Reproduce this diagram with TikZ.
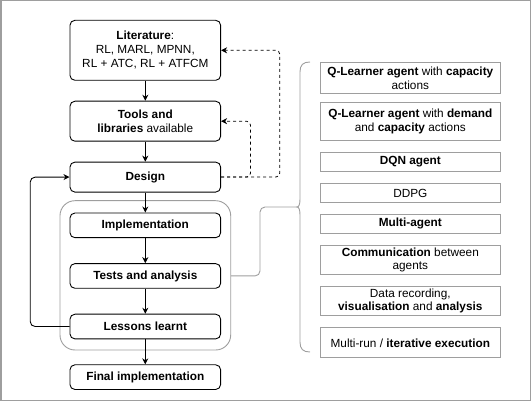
\documentclass[tikz,border=0pt]{standalone}
\usepackage{fontspec}
\setmainfont{Liberation Sans}
\usetikzlibrary{arrows.meta,positioning,fit}
\definecolor{linegray}{HTML}{9E9E9E}

\begin{document}
\begin{tikzpicture}[->,>={Stealth[length=6pt,width=6pt]},x=1pt,y=-1pt,line width=0.9pt,
                    every text node part/.style={align=center},font=\fontsize{11.8}{14}\selectfont]
  \tikzstyle{phase}=[draw=black,rounded corners=5pt,minimum width=150.7pt,inner sep=0pt]
  \tikzstyle{task}=[draw=linegray,minimum width=180.7pt,inner sep=0pt,font=\fontsize{11.8}{13.5}\selectfont]
  \tikzstyle{group}=[draw=linegray,rounded corners=15pt,inner sep=0pt]

  \useasboundingbox (0,0) rectangle (531,401);
  \draw[-,linegray,line width=1.5pt] (0.75,0.75) rectangle (530.25,400.25);

  % main work flow
  \node[phase,minimum height=60pt] (lit) at (145.3,50.3) {\textbf{Literature}:\\RL, MARL, MPNN,\\RL + ATC, RL + ATFCM};
  \node[phase,minimum height=40pt] (tools) [below=20pt of lit] {\textbf{Tools and}\\\textbf{libraries} available};
  \node[phase,minimum height=30pt] (design) [below=20pt of tools] {\textbf{Design}};
  \node[phase,minimum height=24.7pt] (impl) [below=20pt of design] {\textbf{Implementation}};
  \node[phase,minimum height=24.7pt] (tests) [below=25pt of impl] {\textbf{Tests and analysis}};
  \node[phase,minimum height=24.7pt] (lessons) [below=25pt of tests] {\textbf{Lessons learnt}};
  \node[phase,minimum height=24.7pt] (final) [below=25pt of lessons] {\textbf{Final implementation}};

  \coordinate (g1) at (60,200.7);
  \coordinate (g2) at (230.7,350);
  \node[group,fit=(g1)(g2)] (iter) {};

  % developed items
  \node[task,minimum height=31.3pt] (qcap) at (410.3,78.3) {\textbf{Q-Learner agent} with \textbf{capacity}\\actions};
  \node[task,minimum height=38.3pt] (qdem) [below=7.7pt of qcap] {\textbf{Q-Learner agent} with \textbf{demand}\\and \textbf{capacity} actions};
  \node[task,minimum height=19.3pt] (dqn) [below=10.7pt of qdem] {\textbf{DQN agent}};
  \node[task,minimum height=19.3pt] (ddpg) [below=10.7pt of dqn] {DDPG};
  \node[task,minimum height=19.3pt] (multi) [below=10.7pt of ddpg] {\textbf{Multi-agent}};
  \node[task,minimum height=29.3pt] (comm) [below=10.7pt of multi] {\textbf{Communication} between\\agents};
  \node[task,minimum height=29.3pt] (data) [below=10.7pt of comm] {Data recording,\\\textbf{visualisation} and \textbf{analysis}};
  \node[task,minimum height=30pt] (runs) [below=11.7pt of data] {Multi-run / \textbf{iterative execution}};

  \path (lit) edge (tools)
        (tools) edge (design)
        (design) edge (impl)
        (impl) edge (tests)
        (tests) edge (lessons)
        (lessons) edge (final);

  \draw[rounded corners=5pt] (lessons.west) -- ++(-39.3,0) |- (design.west);
  \draw[dash pattern=on 3pt off 3pt,line width=0.8pt,rounded corners=4pt] (design.east) -- ++(58.7,0) |- (lit.east);
  \draw[dash pattern=on 3pt off 3pt,line width=0.8pt,rounded corners=4pt] (design.east) -- ++(29.4,0) |- (tools.east);

  % brace round the items
  \coordinate (tip) at (297,207);
  \draw[-,linegray] (310,62) .. controls (303,62) and (300,65) .. (300,72) -- (300,199)
        .. controls (300,204) and (299,207) .. (tip) .. controls (299,207) and (300,210) .. (300,215)
        -- (300,342) .. controls (300,349) and (303,352) .. (310,352);
  \draw[-,linegray,rounded corners=5pt] (iter.east |- tests) -| ([xshift=-37pt]tip) -- (tip);
\end{tikzpicture}
\end{document}
